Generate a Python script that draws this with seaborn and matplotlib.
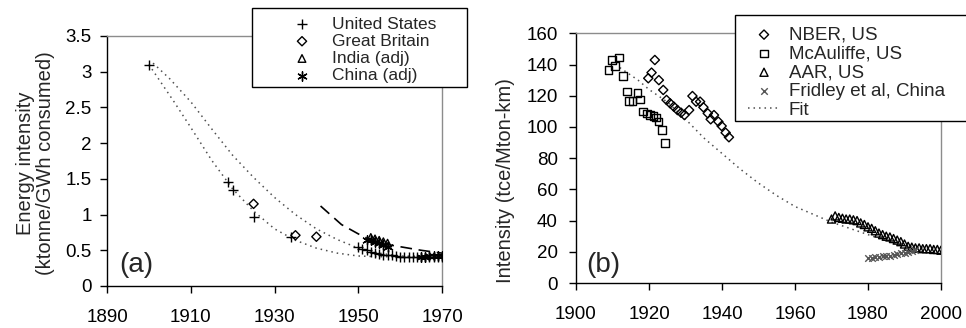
import matplotlib
matplotlib.use("Agg")
import matplotlib.pyplot as plt
import seaborn as sns
from matplotlib.patches import Rectangle
from matplotlib.ticker import FuncFormatter, MultipleLocator

# ---------------- Panel (a) data ----------------
us_year = [1900, 1919, 1920, 1925, 1934, 1950, 1951, 1952, 1953, 1954, 1955, 1956,
           1957, 1958, 1959, 1960, 1961, 1962, 1963, 1964, 1965, 1966, 1967, 1968, 1969, 1970]
us_val = [3.10, 1.46, 1.35, 0.97, 0.69, 0.55, 0.52, 0.50, 0.48, 0.46, 0.45, 0.44,
          0.44, 0.43, 0.42, 0.41, 0.41, 0.41, 0.41, 0.41, 0.41, 0.41, 0.41, 0.41, 0.41, 0.41]
gb_year = [1925, 1935, 1940]
gb_val = [1.15, 0.71, 0.69]
india_year = [1953, 1954, 1955, 1956, 1957]
india_val = [0.68, 0.66, 0.64, 0.62, 0.60]
china_year = [1952, 1953, 1954, 1955, 1956, 1957, 1965, 1966, 1967, 1968, 1969, 1970]
china_val = [0.65, 0.64, 0.62, 0.60, 0.57, 0.55, 0.41, 0.41, 0.42, 0.42, 0.42, 0.42]
fit_us_year = [1900, 1903, 1906, 1910, 1915, 1920, 1925, 1930, 1935, 1940, 1945, 1950, 1955, 1960, 1965]
fit_us_val = [3.10, 2.84, 2.58, 2.22, 1.76, 1.36, 1.05, 0.80, 0.64, 0.53, 0.46, 0.42, 0.41, 0.41, 0.42]
fit_gb_year = [1901, 1905, 1910, 1915, 1920, 1925, 1930, 1935, 1940, 1945, 1950, 1955, 1960, 1965]
fit_gb_val = [3.12, 2.90, 2.58, 2.20, 1.83, 1.52, 1.24, 1.00, 0.80, 0.65, 0.53, 0.46, 0.42, 0.41]
fit_dev_year = [1941, 1946, 1950, 1953, 1956, 1960, 1965, 1970]
fit_dev_val = [1.12, 0.86, 0.73, 0.64, 0.59, 0.55, 0.50, 0.46]
a_xticks = [1890, 1910, 1930, 1950, 1970]
a_legend = ["United States", "Great Britain", "India (adj)", "China (adj)"]

# ---------------- Panel (b) data ----------------
nber_year = [1919.8, 1920.7, 1921.6, 1922.7, 1923.9, 1924.8, 1925.8, 1926.8, 1927.8, 1928.8,
             1929.7, 1931.0, 1931.9, 1932.9, 1934.0, 1934.9, 1936.1, 1936.9, 1937.8, 1939.0,
             1939.9, 1941.0, 1941.9]
nber_val = [131.2, 134.8, 142.9, 130.0, 123.7, 117.3, 115.1, 113.0, 110.8, 109.1,
            107.6, 110.8, 119.8, 116.2, 116.2, 112.6, 108.7, 104.9, 107.6, 103.4,
            100.6, 96.3, 93.4]
mca_year = [1908.9, 1909.8, 1910.7, 1911.8, 1912.8, 1913.9, 1914.6, 1915.5, 1916.8, 1917.5,
            1918.4, 1919.4, 1920.3, 1921.2, 1921.9, 1922.6, 1923.6, 1924.4]
mca_val = [136.5, 142.9, 139.0, 144.6, 132.8, 122.6, 116.8, 116.8, 121.9, 117.7,
           109.8, 108.7, 107.6, 107.0, 106.0, 103.4, 98.0, 89.9]
aar_year = list(range(1970, 2001))
aar_val = [41, 43, 42, 41.5, 41, 41, 40.5, 40, 38.5, 37.5, 36, 35, 33.5, 32, 31, 30,
           29.5, 28.5, 27.5, 26.5, 25, 23.5, 23, 22.5, 22.5, 22, 22, 22, 21.5, 21.5, 21]
fri_year = list(range(1980, 1994))
fri_val = [16, 16.3, 16.5, 16.7, 17, 17.3, 17.6, 18, 18.5, 19, 19.5, 20, 20.5, 21]
fit_b_year = [1912, 1917, 1920, 1925, 1930, 1935, 1940, 1945, 1950, 1955, 1960, 1965,
              1970, 1975, 1980, 1985, 1990, 1995, 2001]
fit_b_val = [138, 130, 124, 116, 105, 93, 83, 73, 64, 56, 49, 44, 39, 35, 31, 27, 24, 22.5, 22.5]
b_xticks = [1900, 1920, 1940, 1960, 1980, 2000]
b_legend = ["NBER, US", "McAuliffe, US", "AAR, US", "Fridley et al, China", "Fit"]

# ---------------- style ----------------
sns.set_style("white")
plt.rcParams["font.family"] = ["Liberation Sans", "DejaVu Sans"]

W, H = 966, 328
fig = plt.figure(figsize=(W / 100, H / 100), dpi=100)


def px_axes(l, t, r, b):
    return fig.add_axes([l / W, 1 - b / H, (r - l) / W, (b - t) / H])


def style_axes(ax, ypad):
    for s in ["left", "bottom"]:
        ax.spines[s].set_color("black")
        ax.spines[s].set_linewidth(1.0)
    for s in ["top", "right"]:
        ax.spines[s].set_color("#8c8c8c")
        ax.spines[s].set_linewidth(1.0)
    ax.tick_params(axis="x", which="both", bottom=True, top=False, direction="out",
                   length=5, width=1, pad=11.5, labelsize=13.5, colors="black")
    ax.tick_params(axis="y", which="both", left=True, right=False, direction="out",
                   length=5, width=1, pad=ypad, labelsize=13.5, colors="black")
    ax.grid(False)


DOT = (0, (1, 2.6))
FITC = "#505050"

# ---------------- Panel (a) ----------------
axa = px_axes(107, 36, 442, 286)
sns.lineplot(x=fit_us_year, y=fit_us_val, ax=axa, color=FITC, linewidth=1.1,
             linestyle=DOT, sort=False, estimator=None)
sns.lineplot(x=fit_gb_year, y=fit_gb_val, ax=axa, color=FITC, linewidth=1.1,
             linestyle=DOT, sort=False, estimator=None)
sns.lineplot(x=fit_dev_year, y=fit_dev_val, ax=axa, color="black", linewidth=1.2,
             linestyle=(0, (7, 4)), sort=False, estimator=None)
sns.scatterplot(x=us_year, y=us_val, ax=axa, marker="+", color="black", s=60,
                linewidth=1.0, label=a_legend[0], zorder=5)
sns.scatterplot(x=gb_year, y=gb_val, ax=axa, marker="D", facecolor="none",
                edgecolor="black", s=22, linewidth=1.0, label=a_legend[1], zorder=5)
sns.scatterplot(x=india_year, y=india_val, ax=axa, marker="^", facecolor="none",
                edgecolor="black", s=30, linewidth=1.0, label=a_legend[2], zorder=5)
sns.scatterplot(x=china_year, y=china_val, ax=axa, marker=(6, 2, 0), color="black",
                s=45, linewidth=1.0, label=a_legend[3], zorder=5)
axa.set_xlim(1890, 1970)
axa.set_ylim(0, 3.5)
axa.set_xticks(a_xticks)
axa.yaxis.set_major_locator(MultipleLocator(0.5))
axa.yaxis.set_major_formatter(FuncFormatter(lambda v, p: f"{v:g}"))
style_axes(axa, 6)
axa.set_ylabel("Energy intensity\n(ktonne/GWh consumed)", fontsize=14.5, linespacing=1.05)
axa.yaxis.set_label_coords(-0.155, 0.49)
axa.text(0.038, 0.085, "(a)", transform=axa.transAxes, fontsize=20, va="center", ha="left")
ha_, la_ = axa.get_legend_handles_labels()
axa.get_legend().remove()

# ---------------- Panel (b) ----------------
axb = px_axes(576, 33.3, 941, 283)
sns.lineplot(x=fit_b_year, y=fit_b_val, ax=axb, color=FITC, linewidth=1.1,
             linestyle=DOT, sort=False, estimator=None, label=b_legend[4])
sns.scatterplot(x=nber_year, y=nber_val, ax=axb, marker="D", facecolor="none",
                edgecolor="black", s=22, linewidth=1.0, label=b_legend[0], zorder=5)
sns.scatterplot(x=mca_year, y=mca_val, ax=axb, marker="s", facecolor="none",
                edgecolor="black", s=30, linewidth=1.0, label=b_legend[1], zorder=5)
sns.scatterplot(x=aar_year, y=aar_val, ax=axb, marker="^", facecolor="none",
                edgecolor="black", s=34, linewidth=1.0, label=b_legend[2], zorder=5)
sns.scatterplot(x=fri_year, y=fri_val, ax=axb, marker="x", color="#555555",
                s=22, linewidth=1.0, label=b_legend[3], zorder=5)
axb.set_xlim(1900, 2000)
axb.set_ylim(0, 160)
axb.set_xticks(b_xticks)
axb.yaxis.set_major_locator(MultipleLocator(20))
style_axes(axb, 8)
axb.set_ylabel("Intensity (tce/Mton-km)", fontsize=14.5)
axb.yaxis.set_label_coords(-0.167, 0.41)
axb.text(0.027, 0.072, "(b)", transform=axb.transAxes, fontsize=20, va="center", ha="left")
hb, lb = axb.get_legend_handles_labels()
axb.get_legend().remove()
order = [lb.index(n) for n in b_legend]
hb = [hb[i] for i in order]
lb = [lb[i] for i in order]

# ---------------- legend boxes ----------------
fig.patches.append(Rectangle((252 / W, 1 - 87 / H), (467 - 252) / W, (87 - 8) / H,
                             transform=fig.transFigure, facecolor="white",
                             edgecolor="black", linewidth=1.0, zorder=3))
fig.patches.append(Rectangle((735 / W, 1 - 121 / H), (980 - 735) / W, (121 - 15) / H,
                             transform=fig.transFigure, facecolor="white",
                             edgecolor="black", linewidth=1.0, zorder=3))

FSA = 12.5
fsa = FSA * 100 / 72
la = fig.legend(ha_, la_, loc="upper left", bbox_to_anchor=((302 - 0.75 * fsa) / W, 1 - 16.4 / H),
                frameon=False, borderpad=0, borderaxespad=0, handlelength=1.5,
                handletextpad=(332 - 302 - 0.75 * fsa) / fsa, labelspacing=0.12,
                fontsize=FSA, scatterpoints=1)
la.set_zorder(5)

FSB = 13.5
fsb = FSB * 100 / 72
lgb = fig.legend(hb, lb, loc="upper left", bbox_to_anchor=(748 / W, 1 - 26.4 / H),
                 frameon=False, borderpad=0, borderaxespad=0, handlelength=32 / fsb,
                 handletextpad=9 / fsb, labelspacing=0.09, fontsize=FSB, scatterpoints=1)
lgb.set_zorder(5)

fig.savefig("out.png", dpi=100)
